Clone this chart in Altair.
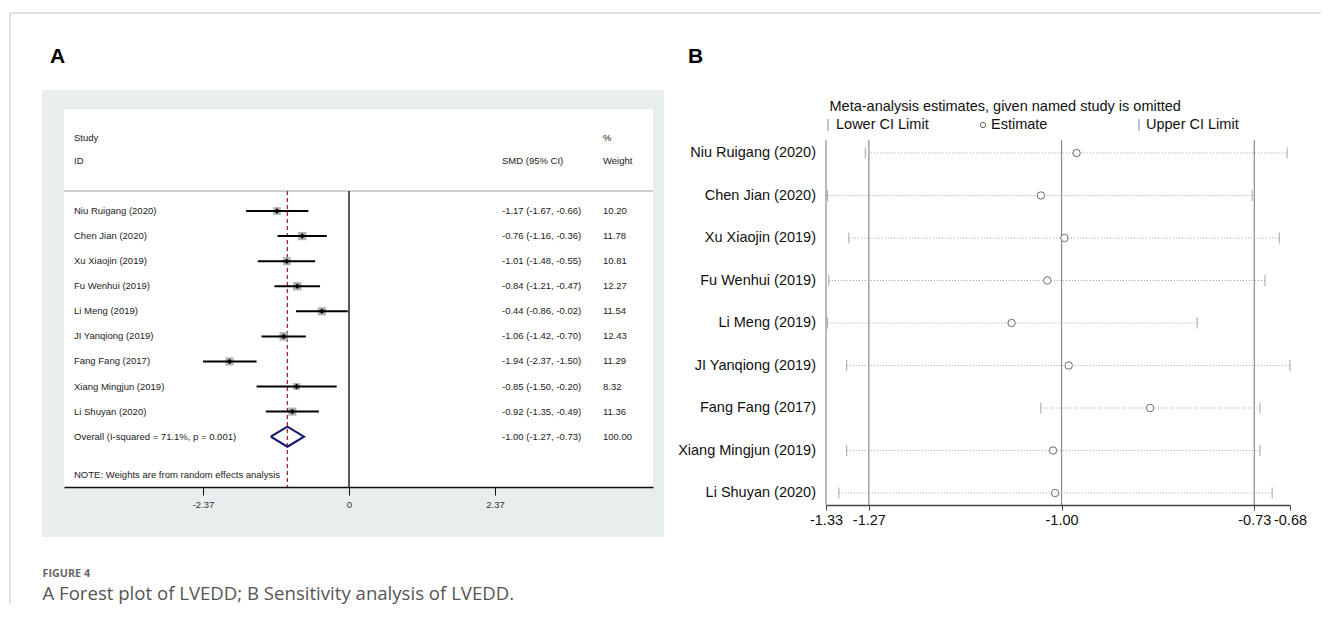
import altair as alt
import pandas as pd

# ---------------- Panel A : forest plot ----------------
studies = ["Niu Ruigang (2020)", "Chen Jian (2020)", "Xu Xiaojin (2019)", "Fu Wenhui (2019)",
           "Li Meng (2019)", "JI Yanqiong (2019)", "Fang Fang (2017)", "Xiang Mingjun (2019)",
           "Li Shuyan (2020)"]
smd = [-1.17, -0.76, -1.01, -0.84, -0.44, -1.06, -1.94, -0.85, -0.92]
ci_low = [-1.67, -1.16, -1.48, -1.21, -0.86, -1.42, -2.37, -1.50, -1.35]
ci_high = [-0.66, -0.36, -0.55, -0.47, -0.02, -0.70, -1.50, -0.20, -0.49]
weights = [10.20, 11.78, 10.81, 12.27, 11.54, 12.43, 11.29, 8.32, 11.36]
overall_est, overall_low, overall_high, overall_weight = -1.00, -1.27, -0.73, 100.00
overall_label = "Overall  (I-squared = 71.1%, p = 0.001)"
ticks_a = [-2.37, 0, 2.37]

# ---------------- Panel B : sensitivity analysis ----------------
sens_est = [-0.979, -1.029, -0.996, -1.020, -1.070, -0.990, -0.876, -1.012, -1.009]
sens_low = [-1.275, -1.328, -1.298, -1.326, -1.328, -1.301, -1.029, -1.301, -1.312]
sens_high = [-0.684, -0.733, -0.695, -0.715, -0.810, -0.680, -0.722, -0.722, -0.705]
ticks_b = [-1.33, -1.27, -1.00, -0.73, -0.68]
refs_b = [-1.33, -1.27, -1.00, -0.73]

FA = "Liberation Sans"
FC = "Open Sans"
one = pd.DataFrame({"k": [0]})


def txt(s, x, y, size=9.5, align="left", color="#222", font=FA, weight="normal"):
    return alt.Chart(one).mark_text(text=s, align=align, baseline="middle", fontSize=size,
                                    font=font, color=color, fontWeight=weight).encode(
        x=alt.value(x), y=alt.value(y))


# ---------- panel A data ----------
rows = list(range(1, len(studies) + 1))
dfA = pd.DataFrame({"study": studies, "smd": smd, "lo": ci_low, "hi": ci_high,
                    "w": weights, "row": rows})
txtA = pd.DataFrame({
    "study": studies + [overall_label],
    "row": rows + [len(studies) + 1],
    "ci": [f"{e:.2f} ({l:.2f}, {h:.2f})" for e, l, h in zip(smd, ci_low, ci_high)]
          + [f"{overall_est:.2f} ({overall_low:.2f}, {overall_high:.2f})"],
    "wt": [f"{w:.2f}" for w in weights] + [f"{overall_weight:.2f}"],
})
r_ov = len(studies) + 1
diamond = pd.DataFrame({"x": [overall_low, overall_est, overall_high, overall_est, overall_low],
                        "y": [r_ov, r_ov - 0.4, r_ov, r_ov + 0.4, r_ov],
                        "o": [0, 1, 2, 3, 4]})
lines_a = pd.DataFrame({"x": [0.0, overall_est], "kind": ["zero", "overall"]})

WA, HA = 589, 378
scA = alt.Scale(domain=[-285 / 61.6, (WA - 285) / 61.6], nice=False, zero=False)
scAy = alt.Scale(domain=[1, 10], range=[102, 327.7], nice=False, zero=False)
axA = alt.Axis(values=ticks_a, title=None, grid=False, zindex=2,
               labelExpr="datum.value == 0 ? '0' : (datum.value < 0 ? '-' : '') + format(abs(datum.value), '.2f')",
               domainColor="#111", domainWidth=1.6, tickColor="#111", tickSize=8,
               labelFontSize=9.5, labelFont=FA, labelColor="#333", labelPadding=4,
               labelFlush=False)

bgA = alt.Chart(one).mark_rect(color="#e8eeee").encode(
    x=alt.value(-22), x2=alt.value(600), y=alt.value(-19), y2=alt.value(428))
whiteA = alt.Chart(one).mark_rect(color="white").encode(
    x=alt.value(0), x2=alt.value(WA), y=alt.value(0), y2=alt.value(HA))
sepA = alt.Chart(one).mark_rule(color="#cfcfcf", strokeWidth=2).encode(
    x=alt.value(0), x2=alt.value(WA), y=alt.value(82))
zeroA = alt.Chart(lines_a[lines_a.kind == "zero"]).mark_rule(color="black", strokeWidth=1.3).encode(
    x=alt.X("x:Q", scale=scA, axis=axA), y=alt.value(82), y2=alt.value(HA))
ovA = alt.Chart(lines_a[lines_a.kind == "overall"]).mark_rule(
    color="#a3262a", strokeWidth=1.3, strokeDash=[4, 3]).encode(
    x=alt.X("x:Q", scale=scA, axis=axA), y=alt.value(82), y2=alt.value(HA))
boxA = alt.Chart(dfA).mark_square(color="#a8a8a8", opacity=0.9).encode(
    x=alt.X("smd:Q", scale=scA, axis=axA),
    y=alt.Y("row:Q", scale=scAy, axis=None),
    size=alt.Size("w:Q", scale=alt.Scale(domain=[0, 12.43], range=[0, 72]), legend=None))
ciA = alt.Chart(dfA).mark_rule(color="black", strokeWidth=2).encode(
    x=alt.X("lo:Q", scale=scA, axis=axA), x2="hi:Q",
    y=alt.Y("row:Q", scale=scAy, axis=None))
dotA = alt.Chart(dfA).mark_point(shape="diamond", filled=True, color="black", size=30, opacity=1).encode(
    x=alt.X("smd:Q", scale=scA, axis=axA), y=alt.Y("row:Q", scale=scAy, axis=None))
diaA = alt.Chart(diamond).mark_line(color="#14146e", strokeWidth=2).encode(
    x=alt.X("x:Q", scale=scA, axis=axA), y=alt.Y("y:Q", scale=scAy, axis=None), order="o:Q")
namesA = alt.Chart(txtA).mark_text(align="left", baseline="middle", fontSize=9.5, font=FA, color="#222").encode(
    x=alt.value(10), y=alt.Y("row:Q", scale=scAy, axis=None), text="study:N")
ciTxtA = alt.Chart(txtA).mark_text(align="left", baseline="middle", fontSize=9.5, font=FA, color="#222").encode(
    x=alt.value(438), y=alt.Y("row:Q", scale=scAy, axis=None), text="ci:N")
wtTxtA = alt.Chart(txtA).mark_text(align="left", baseline="middle", fontSize=9.5, font=FA, color="#222").encode(
    x=alt.value(539), y=alt.Y("row:Q", scale=scAy, axis=None), text="wt:N")

frame_top = alt.Chart(one).mark_rule(color="#c4c4c4", strokeWidth=1).encode(
    x=alt.value(-54), x2=alt.value(1257), y=alt.value(-96))
frame_left = alt.Chart(one).mark_rule(color="#c4c4c4", strokeWidth=1).encode(
    x=alt.value(-54), y=alt.value(-96), y2=alt.value(495))

panelA = alt.layer(
    frame_top, frame_left, bgA, whiteA, sepA, zeroA, ovA, boxA, ciA, dotA, diaA,
    namesA, ciTxtA, wtTxtA,
    txt("Study", 10, 29), txt("ID", 10, 52),
    txt("SMD (95% CI)", 438, 52), txt("%", 539, 29), txt("Weight", 539, 52),
    txt("NOTE: Weights are from random effects analysis", 10, 366),
    txt("A", -14, -52, size=21, color="black", weight="bold"),
    txt("FIGURE 4", -21.5, 465, size=10.8, color="#666", font=FC, weight="bold"),
    txt("A Forest plot of LVEDD; B Sensitivity analysis of LVEDD.", -21.5, 485, size=18.6,
        color="#555", font=FC),
).properties(width=WA, height=HA)

# ---------- panel B ----------
dfB = pd.DataFrame({"study": studies, "est": sens_est, "lo": sens_low, "hi": sens_high,
                    "row": rows})
ends = pd.DataFrame({"x": sens_low + sens_high, "row": rows + rows})
refs = pd.DataFrame({"x": refs_b})

WB, HB = 464, 396
scB = alt.Scale(domain=[ticks_b[0], ticks_b[-1]], nice=False, zero=False)
scBy = alt.Scale(domain=[1, 9], range=[44, 384], nice=False, zero=False)
axB = alt.Axis(values=ticks_b, title=None, grid=False, zindex=2,
               labelExpr="(datum.value < 0 ? '-' : '') + format(abs(datum.value), '.2f')",
               domainColor="#444", domainWidth=1.3, tickColor="#444", tickSize=5,
               labelFontSize=14.5, labelFont=FA, labelColor="#111", labelPadding=3,
               labelFlush=False, labelOverlap=False)

refB = alt.Chart(refs).mark_rule(color="#8c8c8c", strokeWidth=1.2).encode(
    x=alt.X("x:Q", scale=scB, axis=axB), y=alt.value(31), y2=alt.value(HB))
dotsB = alt.Chart(dfB).mark_rule(color="#a0a0a0", strokeWidth=1, strokeDash=[1, 2]).encode(
    x=alt.X("lo:Q", scale=scB, axis=axB), x2="hi:Q", y=alt.Y("row:Q", scale=scBy, axis=None))
endB = alt.Chart(ends).mark_tick(orient="vertical", color="#808080", size=11, thickness=1).encode(
    x=alt.X("x:Q", scale=scB, axis=axB), y=alt.Y("row:Q", scale=scBy, axis=None))
estB = alt.Chart(dfB).mark_point(shape="circle", filled=False, color="#6a6a6a", size=55,
                                 strokeWidth=1, fill="white", opacity=1).encode(
    x=alt.X("est:Q", scale=scB, axis=axB), y=alt.Y("row:Q", scale=scBy, axis=None))
namesB = alt.Chart(dfB).mark_text(align="right", baseline="middle", fontSize=14.5, font=FA,
                                  color="#111").encode(
    x=alt.value(-10), y=alt.Y("row:Q", scale=scBy, axis=None), text="study:N")

legbar1 = alt.Chart(one).mark_rule(color="#8c8c8c").encode(
    x=alt.value(2), y=alt.value(10), y2=alt.value(22))
legbar2 = alt.Chart(one).mark_rule(color="#8c8c8c").encode(
    x=alt.value(313), y=alt.value(10), y2=alt.value(22))
legcirc = alt.Chart(one).mark_point(shape="circle", filled=False, color="#6a6a6a", size=28,
                                    strokeWidth=1, fill="white", opacity=1).encode(
    x=alt.value(157), y=alt.value(16))

panelB = alt.layer(
    refB, dotsB, endB, estB, namesB, legbar1, legbar2, legcirc,
    txt("Meta-analysis estimates, given named study is omitted", 3.5, -2, size=14.5, color="#111"),
    txt("Lower CI Limit", 10, 16, size=14.5, color="#111"),
    txt("Estimate", 165, 16, size=14.5, color="#111"),
    txt("Upper CI Limit", 320, 16, size=14.5, color="#111"),
    txt("B", -138, -52, size=21, color="black", weight="bold"),
).properties(width=WB, height=HB)

chart = alt.hconcat(panelA, panelB, spacing=173, bounds="flush",
                    padding={"left": 1, "top": 4, "right": 0, "bottom": 0}).configure_view(
    stroke=None).properties(background="white")

chart.save("out.html", embed_options={"renderer": "svg", "actions": False})
